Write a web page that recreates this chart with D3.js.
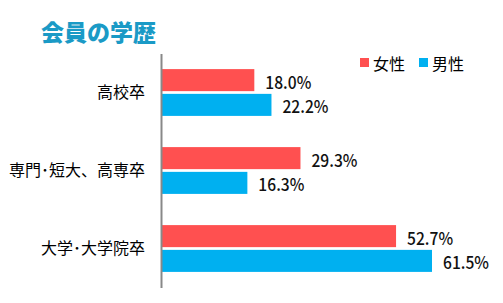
<!DOCTYPE html>
<html>
<head>
<meta charset="utf-8">
<script src="https://cdn.jsdelivr.net/npm/d3@7"></script>
<style>
  body { margin: 0; background: #fff; }
  svg { display: block; }
</style>
</head>
<body>
<div id="chart"></div>
<script>
'use strict';

// Data
const categories = ['高校卒', '専門･短大、高専卒', '大学･大学院卒'];
const seriesNames = ['女性', '男性'];
const female = [18.0, 29.3, 52.7];
const male = [22.2, 16.3, 61.5];
const colors = ['#ff5050', '#00b0f0'];

const width = 503;
const height = 303;

const svg = d3.select('#chart').append('svg')
  .attr('width', width)
  .attr('height', height);

// Scales
const y = d3.scaleBand()
  .domain(categories)
  .range([53.5, 287.5])
  .paddingInner(0.4)
  .paddingOuter(0.2);

const ySub = d3.scaleBand()
  .domain(seriesNames)
  .range([0, y.bandwidth()])
  .paddingInner(0.11);

const x = d3.scaleLinear()
  .domain([-4.6, 61.5])
  .range([162, 432]);

const x0 = 162;

// Title
svg.append('text')
  .attr('x', 41)
  .attr('y', 31)
  .attr('dominant-baseline', 'central')
  .attr('font-family', '"Noto Sans CJK JP", sans-serif')
  .attr('font-weight', 900)
  .attr('font-size', 23)
  .attr('fill', '#1a9ac6')
  .text('会員の学歴');

// Bars
const rows = categories.map((c, i) => ({ cat: c, values: [female[i], male[i]] }));

const groups = svg.selectAll('.group')
  .data(rows)
  .enter().append('g')
  .attr('class', 'group')
  .attr('transform', (d) => 'translate(0,' + y(d.cat) + ')');

groups.selectAll('rect')
  .data((d) => d.values.map((v, j) => ({ v: v, s: seriesNames[j], j: j })))
  .enter().append('rect')
  .attr('x', x0)
  .attr('y', (d) => ySub(d.s))
  .attr('width', (d) => x(d.v) - x0)
  .attr('height', ySub.bandwidth())
  .attr('fill', (d) => colors[d.j]);

// value labels, narrow like the original's monospace digits
groups.selectAll('.val')
  .data((d) => d.values.map((v, j) => ({ v: v, s: seriesNames[j], j: j })))
  .enter().append('text')
  .attr('class', 'val')
  .attr('x', (d) => x(d.v) + 11)
  .attr('y', (d) => ySub(d.s) + ySub.bandwidth() / 2 + 1)
  .attr('dominant-baseline', 'central')
  .attr('font-family', '"Noto Sans CJK JP", sans-serif')
  .attr('font-weight', 500)
  .attr('font-size', 17)
  .attr('textLength', 46)
  .attr('lengthAdjust', 'spacingAndGlyphs')
  .attr('fill', '#111')
  .text((d) => d.v.toFixed(1) + '%');

// Axis
const axis = svg.append('g')
  .attr('transform', 'translate(' + (x0 - 1) + ',0)')
  .call(d3.axisLeft(y).tickSize(0).tickPadding(16));

axis.select('.domain')
  .attr('stroke', '#888')
  .attr('stroke-width', 2);

axis.selectAll('.tick text')
  .attr('font-family', '"Noto Sans CJK JP", sans-serif')
  .attr('font-size', 16)
  .attr('fill', '#000');

// Legend
const legend = svg.append('g')
  .attr('transform', 'translate(360,58)');

const items = legend.selectAll('g')
  .data(seriesNames)
  .enter().append('g')
  .attr('transform', (d, i) => 'translate(' + (i * 59) + ',0)');

items.append('rect')
  .attr('width', 9)
  .attr('height', 9)
  .attr('fill', (d, i) => colors[i]);

items.append('text')
  .attr('x', 13)
  .attr('y', 5)
  .attr('dominant-baseline', 'central')
  .attr('font-family', '"Noto Sans CJK JP", sans-serif')
  .attr('font-size', 16)
  .attr('fill', '#000')
  .text((d) => d);
</script>
</body>
</html>
